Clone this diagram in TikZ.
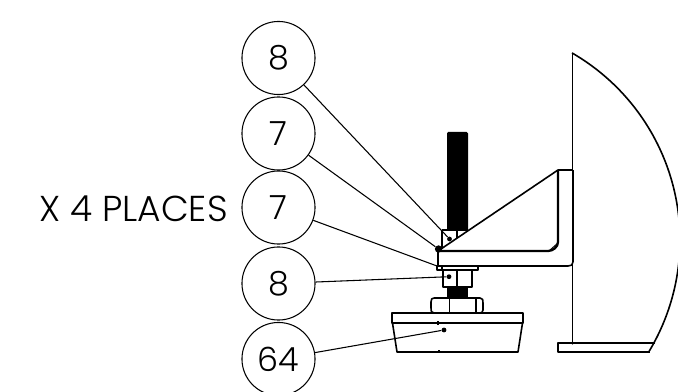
\documentclass[tikz,border=0pt]{standalone}
\usepackage{fontspec}
\setmainfont{Poppins}[UprightFont=* Light]
\begin{document}
\begin{tikzpicture}[x=0.75pt,y=-0.75pt,
  balloon/.style={draw=black,line width=0.8pt,circle,minimum size=54.8pt,inner sep=0pt,font=\fontsize{25}{30}\selectfont},
  leader/.style={draw=black,line width=0.8pt},
  part/.style={draw=black,line width=1.2pt,line join=round},
  heavy/.style={draw=black,line width=1.7pt,line join=round},
  thin part/.style={draw=black,line width=0.8pt},
  tipdot/.style={circle,fill=black,inner sep=0pt,minimum size=3.6pt}]
\useasboundingbox (0,0) rectangle (678,392);
% threaded rod
\fill[black] (447,133.5) -- (448,132) -- (466.5,132) -- (468,133.5) -- (468,232) -- (447,232) -- cycle;
\fill[black] (447,287) rectangle (468,298);
% upper nut
\fill[white] (442,230) rectangle (468,250);
\draw[part] (442,230) -- (468,230);
\draw[part] (442,230) -- (442,249);
\draw[part] (457,230) -- (457,240);
% gusset and angle
\fill[white] (438,251) -- (558,170) -- (558,251) -- cycle;
\draw[part] (438,251) -- (558,170) -- (572.5,170);
\draw[heavy] (439,251) -- (548,251) .. controls (553,251) and (558,247) .. (558,242) -- (558,170);
\draw[thin part] (549,251) -- (558,243);
\draw[part] (438,251) -- (438,266) -- (568,266) .. controls (571,266) and (573,265) .. (573,262);
\draw[heavy] (573,170) -- (573,262);
% washer, nut
\draw[part] (437,266) rectangle (478,270);
\draw[part] (442,266) -- (442,270);
\draw[part] (443,270) rectangle (472,287);
\draw[part] (457,270) -- (457,287);
% jam nut
\draw[part] (434,298) -- (480,298) .. controls (483,298) and (483,300) .. (483,303) -- (483,310) .. controls (483,313) and (481,313) .. (479,313) -- (434,313) .. controls (431,313) and (431,311) .. (431,308) -- (431,302) .. controls (431,299) and (432,298) .. (434,298);
\draw[part] (449.5,298) -- (449.5,313);
\draw[part] (476,298) -- (476,313);
% foot
\draw[part] (392,313) rectangle (523,323);
\draw[part] (392.5,323) -- (397,352) -- (518,352) -- (522.5,323);
\draw[thin part] (438,321) -- (438,325);
\draw[thin part] (439,350) -- (439,352);
% panel
\draw[part] (572.5,53) -- (572.5,343);
\draw[part] plot[domain=-60:31,samples=90,smooth] ({464+216*cos(\x)},{240+216*sin(\x)});
\draw[part] (655,343) -- (558,343) -- (558,352) -- (650,352);
\fill (572.5,343) circle (1.6);
% balloons
\node[balloon] (b1) at (278.5,58) {8};
\node[balloon] (b2) at (278.5,133.5) {7};
\node[balloon] (b3) at (278.5,207.5) {7};
\node[balloon] (b4) at (278.5,283.5) {8};
\node[balloon] (b5) at (278.5,359) {64};
\node[font=\fontsize{27}{32}\selectfont,inner sep=0pt] (lbl) at (133.5,209) {X 4 PLACES};
% leader ends
\node[tipdot] (t1) at (449.5,239) {};
\node[tipdot,minimum size=5.5pt] (t2) at (438.5,249) {};
\coordinate (t3) at (437,266);
\node[tipdot] (t4) at (449,276.7) {};
\node[tipdot] (t5) at (444,330) {};
\draw[leader] (b1) -- (t1);
\draw[leader] (b2) -- (t2);
\draw[leader] (b3) -- (t3);
\draw[leader] (b4) -- (t4);
\draw[leader] (b5) -- (t5);
\end{tikzpicture}
\end{document}
